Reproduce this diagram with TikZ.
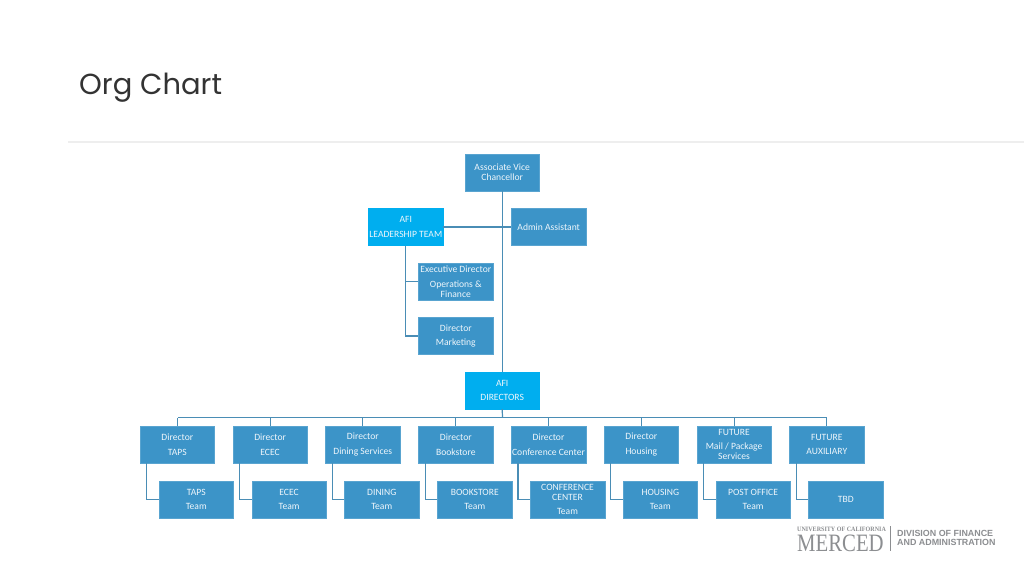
\documentclass[tikz,border=0pt]{standalone}
\usepackage{fontspec}
\setmainfont{Carlito}
\newfontfamily\titlefont{Poppins}
\newfontfamily\logoserif{Liberation Serif}
\newfontfamily\logosans{Liberation Sans}
\usetikzlibrary{calc}
\definecolor{boxblue}{HTML}{3C94C8}
\definecolor{brightblue}{HTML}{00AEEF}
\definecolor{linkblue}{HTML}{4A8DB5}
\definecolor{rulegray}{HTML}{EEEEEE}
\definecolor{logogray}{HTML}{8C8E91}
\tikzset{
  orgbox/.style={fill=boxblue,draw=boxblue!85!white,line width=.4pt,text=white!92!boxblue,minimum width=74.6pt,minimum height=36.8pt,inner sep=0pt,align=center,font=\fontsize{9.6}{10}\selectfont},
  hotbox/.style={orgbox,fill=brightblue,draw=brightblue},
  link/.style={draw=linkblue,line width=1.2pt},
  logotext/.style={text=logogray,inner sep=0pt,anchor=west,align=left}
}
\newcommand{\gap}{\\[4.6pt]}
\newcommand{\orgcol}[4]{%
  \node[orgbox] (d#1) at (#2,444.5) {#3};
  \node[orgbox] (t#1) at (#2+19,499.5) {#4};
  \draw[link] (d#1.north) -- (d#1.north |- bus);
  \draw[link] ($(d#1.south west)+(7pt,0pt)$) |- (t#1.west);
}
\begin{document}
\begin{tikzpicture}[x=1pt,y=-1pt]
\useasboundingbox (0,0) rectangle (1024,576);
\fill[white] (0,0) rectangle (1024,576);
\node[anchor=west,inner sep=0pt,font=\fontsize{29}{32}\selectfont\titlefont,text=black!80] (title) at (79,88) {Org Chart};
\coordinate (ruleL) at (68,142);
\coordinate (ruleR) at (1024,142);
\draw[rulegray,line width=2pt] (ruleL) -- (ruleR);

\coordinate (bus) at (502.5,417.5);
\node[orgbox] (avc) at (502.2,172.5) {Associate Vice\\Chancellor};
\node[hotbox] (lead) at (405.8,227) {AFI\gap LEADERSHIP TEAM};
\node[orgbox] (admin) at (548.7,227) {Admin Assistant};
\node[orgbox] (exec) at (455.8,281.5) {Executive Director\gap Operations \&\\Finance};
\node[orgbox] (mkt) at (455.8,336) {Director\gap Marketing};
\node[hotbox] (afid) at (502.2,390.5) {AFI\gap DIRECTORS};

\draw[link] (avc.south) -- (afid.north);
\draw[link] (lead.east) -- (admin.west);
\draw[link] (lead.south) |- (exec.west);
\draw[link] (lead.south) |- (mkt.west);
\draw[link] (afid.south) -- (bus);

\coordinate (busL) at (177.5,417.5);
\coordinate (busR) at (827,417.5);
\draw[link] (busL) -- (busR);

\orgcol{1}{177.3}{Director\gap TAPS}{TAPS\gap Team}
\orgcol{2}{270.1}{Director\gap ECEC}{ECEC\gap Team}
\orgcol{3}{362.8}{Director\gap Dining Services}{DINING\gap Team}
\orgcol{4}{455.8}{Director\gap Bookstore}{BOOKSTORE\gap Team}
\orgcol{5}{548.5}{Director\gap Conference Center}{CONFERENCE\\CENTER\gap Team}
\orgcol{6}{641.3}{Director\gap Housing}{HOUSING\gap Team}
\orgcol{7}{734.1}{FUTURE\gap Mail / Package\\Services}{POST OFFICE\gap Team}
\orgcol{8}{826.8}{FUTURE\gap AUXILIARY}{TBD}

\node[logotext,font=\logoserif] (ucm) at (797,539.5) {{\fontsize{6.6}{7}\selectfont\bfseries\scalebox{.92}[1]{UNIVERSITY OF CALIFORNIA}}\\[2pt]{\fontsize{25}{20}\selectfont\scalebox{.83}[1]{MERCED}}};
\coordinate (barT) at (890.5,526);
\coordinate (barB) at (890.5,551);
\draw[logogray,line width=1.2pt] (barT) -- (barB);
\node[logotext,font=\fontsize{8.9}{9}\selectfont\logosans\bfseries] (div) at (897,538) {DIVISION OF FINANCE\\AND ADMINISTRATION};
\end{tikzpicture}
\end{document}
